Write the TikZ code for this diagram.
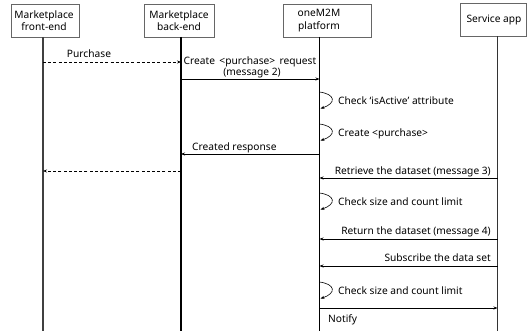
\documentclass[tikz,border=0pt]{standalone}
\usepackage{fontspec}
\setmainfont{Noto Sans}
\usetikzlibrary{arrows.meta}
\begin{document}
\begin{tikzpicture}[x=1pt,y=-1pt,
  font=\fontsize{10.2}{12.6}\selectfont,
  box/.style={draw=black!60, line width=0.6pt, fill=white, minimum height=33pt, inner sep=0pt},
  life/.style={line width=1.1pt},
  msg/.style={line width=0.7pt, -{Stealth[length=4pt,width=3pt]}},
  reply/.style={msg, dashed, dash pattern=on 3pt off 2.2pt},
  selfloop/.style={line width=0.6pt, -{Stealth[length=4pt,width=3pt]}},
  lbl/.style={inner sep=0pt, anchor=base}]
\useasboundingbox (0,0) rectangle (529,331);

% participants
\node[box, minimum width=68pt] (fe) at (45,20.5) {};
\node[align=center] (fet) at (44,20.5) {Marketplace\\front-end};
\node[box, minimum width=70pt] (be) at (179,20.5) {};
\node[align=center] (bet) at (179,20.5) {Marketplace\\back-end};
\node[box, minimum width=88pt] (pf) at (327,20.5) {};
\node[align=center] (pft) at (319,20.5) {oneM2M\\platform};
\node[box, minimum width=66pt] (sa) at (493,20) {};
\node (sat) at (494,20) {Service app};

% lifelines
\coordinate (feT) at (43,37);  \coordinate (feB) at (43,331);
\coordinate (beT) at (181,37); \coordinate (beB) at (181,331);
\coordinate (pfT) at (319.5,37); \coordinate (pfB) at (319.5,331);
\coordinate (saT) at (497.5,36.5); \coordinate (saB) at (497.5,331);
\draw[life, black!75] (feT) -- (feB);
\draw[life] (beT) -- (beB);
\draw[life] (pfT) -- (pfB);
\draw[life, black!80] (saT) -- (saB);

% message anchors on the lifelines
\coordinate (m1a) at (43,62);   \coordinate (m1b) at (181,62);
\coordinate (m2a) at (181,79);  \coordinate (m2b) at (319.5,79);
\coordinate (m3a) at (319.5,154); \coordinate (m3b) at (181,154);
\coordinate (m4a) at (181,171); \coordinate (m4b) at (43,171);
\coordinate (m5a) at (497.5,178); \coordinate (m5b) at (319.5,178);
\coordinate (m6a) at (497.5,239); \coordinate (m6b) at (319.5,239);
\coordinate (m7a) at (497.5,266); \coordinate (m7b) at (319.5,266);
\coordinate (m8a) at (319.5,308); \coordinate (m8b) at (497.5,308);

% messages
\draw[reply] (m1a) -- (m1b);
\node[lbl] (l1) at (89,58) {Purchase};
\draw[msg] (m2a) -- (m2b);
\node[lbl] (l2a) at (250,65) {Create \,<purchase>\, request};
\node[lbl] (l2b) at (252,76) {(message 2)};
\draw[msg] (m3a) -- (m3b);
\node[lbl, anchor=base west] (l3) at (192,150) {Created response};
\draw[reply] (m4a) -- (m4b);
\draw[msg] (m5a) -- (m5b);
\node[lbl, anchor=base east] (l5) at (491,174) {Retrieve the dataset (message 3)};
\draw[msg] (m6a) -- (m6b);
\node[lbl, anchor=base east] (l6) at (491,234) {Return the dataset (message 4)};
\draw[msg] (m7a) -- (m7b);
\node[lbl, anchor=base east] (l7) at (491,261) {Subscribe the data set};
\draw[msg] (m8a) -- (m8b);
\node[lbl, anchor=base west] (l8) at (328,322) {Notify};

% self checks on the platform lifeline
\foreach \y/\t/\n in {92/{Check `isActive' attribute}/c1,
                      124/{Create <purchase>}/c2,
                      193/{Check size and count limit}/c3,
                      282/{Check size and count limit}/c4}{
  \coordinate (\n s) at (319.5,\y);
  \coordinate (\n e) at (320.5,\y+16.5);
  \draw[selfloop] (\n s) .. controls (335,\y+2) and (337,\y+11) .. (\n e);
  \node[lbl, anchor=base west] (\n t) at (338,\y+12.5) {\t};
}
\end{tikzpicture}
\end{document}
